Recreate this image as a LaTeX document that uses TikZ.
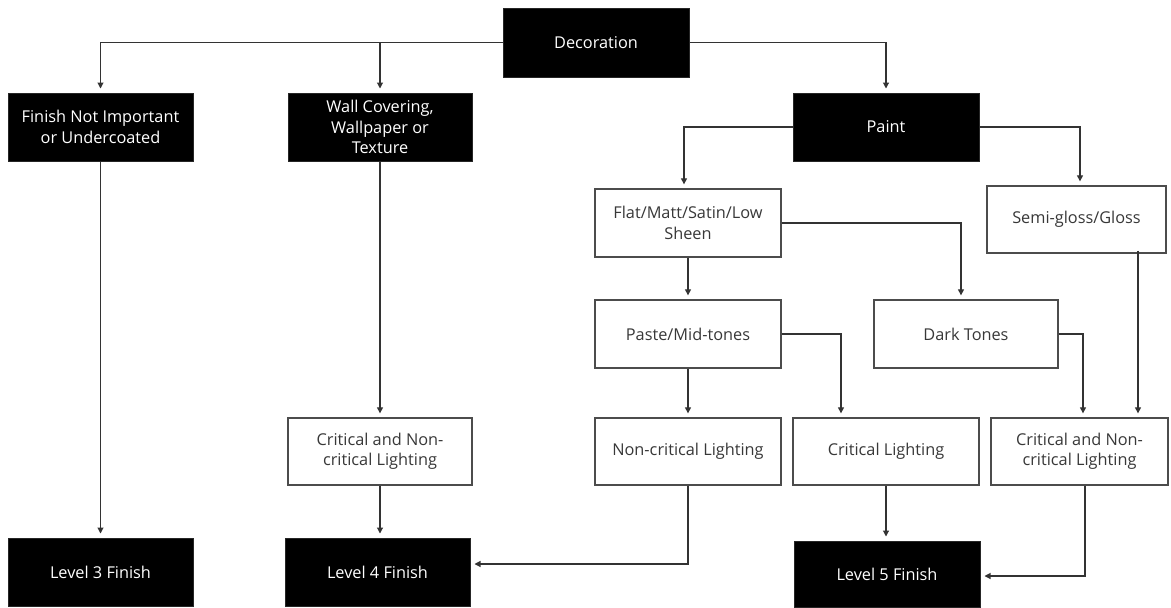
\documentclass[tikz,border=0pt]{standalone}
\usepackage{fontspec}
\setmainfont{Open Sans}
\usetikzlibrary{arrows.meta}
\begin{document}
\begin{tikzpicture}[x=1pt,y=-1pt,
  base/.style={rectangle, inner sep=2pt, align=center, font=\fontsize{16.3}{20.5}\selectfont},
  dark/.style={base, fill=black, draw=black!85, line width=1pt, text=white},
  light/.style={base, fill=white, draw=black!70, line width=1.3pt, text=black!78},
  arr/.style={draw=black!80, line width=1.1pt, -{Triangle[width=6pt,length=6pt]}, shorten >=4pt}
]
\useasboundingbox (0,0) rectangle (1171,608);
% top
\node[dark, minimum width=186pt, minimum height=69pt] (dec) at (596,42.5) {Decoration};
\node[dark, minimum width=185pt, minimum height=68pt] (fin) at (100.5,127) {Finish Not Important\\or Undercoated};
\node[dark, minimum width=184pt, minimum height=68pt] (wall) at (380,127) {Wall Covering,\\Wallpaper or\\Texture};
\node[dark, minimum width=186pt, minimum height=68pt] (paint) at (886,127) {Paint};
% paint subtree
\node[light, minimum width=186pt, minimum height=68pt] (flat) at (688,223) {Flat/Matt/Satin/Low\\Sheen};
\node[light, minimum width=179pt, minimum height=67pt] (semi) at (1076.5,219.5) {Semi-gloss/Gloss};
\node[light, minimum width=186pt, minimum height=68pt] (paste) at (688,334) {Paste/Mid-tones};
\node[light, minimum width=184pt, minimum height=68pt] (darkt) at (966,334) {Dark Tones};
% lighting row
\node[light, minimum width=184pt, minimum height=67pt] (cnla) at (380,451.5) {Critical and Non-\\critical Lighting};
\node[light, minimum width=186pt, minimum height=67pt] (noncrit) at (688,451.5) {Non-critical Lighting};
\node[light, minimum width=186pt, minimum height=67pt] (crit) at (886,451.5) {Critical Lighting};
\node[light, minimum width=177pt, minimum height=67pt] (cnlb) at (1079.5,451.5) {Critical and Non-\\critical Lighting};
% levels
\node[dark, minimum width=185pt, minimum height=68pt] (lthree) at (100.5,572) {Level 3 Finish};
\node[dark, minimum width=185pt, minimum height=68pt] (lfour) at (377.5,572) {Level 4 Finish};
\node[dark, minimum width=186pt, minimum height=66pt] (lfive) at (887,574) {Level 5 Finish};
% connectors
\draw[arr] (dec.west) -| (fin.north);
\draw[arr] (dec.west) -| (wall.north);
\draw[arr] (dec.east) -| (paint.north);
\draw[arr] (paint.west) -| ([xshift=-4pt]flat.north);
\draw[arr] (paint.east) -| ([xshift=3.5pt]semi.north);
\draw[arr] (flat.east) -| ([xshift=-5pt]darkt.north);
\draw[arr] (flat.south) -- (paste.north);
\draw[arr] (paste.east) -| ([xshift=-45pt]crit.north);
\draw[arr] (paste.south) -- (noncrit.north);
\draw[arr] (darkt.east) -| ([xshift=3.5pt]cnlb.north);
\draw[arr] ([xshift=61.5pt,yshift=3pt]semi.south) -- ([xshift=58.5pt]cnlb.north);
\draw[arr] (wall.south) -- (cnla.north);
\draw[arr] (cnla.south) -- (cnla.south |- lfour.north);
\draw[arr] (fin.south) -- (lthree.north);
\draw[arr] (noncrit.south) |- ([yshift=8pt]lfour.east);
\draw[arr] (crit.south) -- (crit.south |- lfive.north);
\draw[arr] ([xshift=5.5pt]cnlb.south) |- ([yshift=-2pt]lfive.east);
\end{tikzpicture}
\end{document}
